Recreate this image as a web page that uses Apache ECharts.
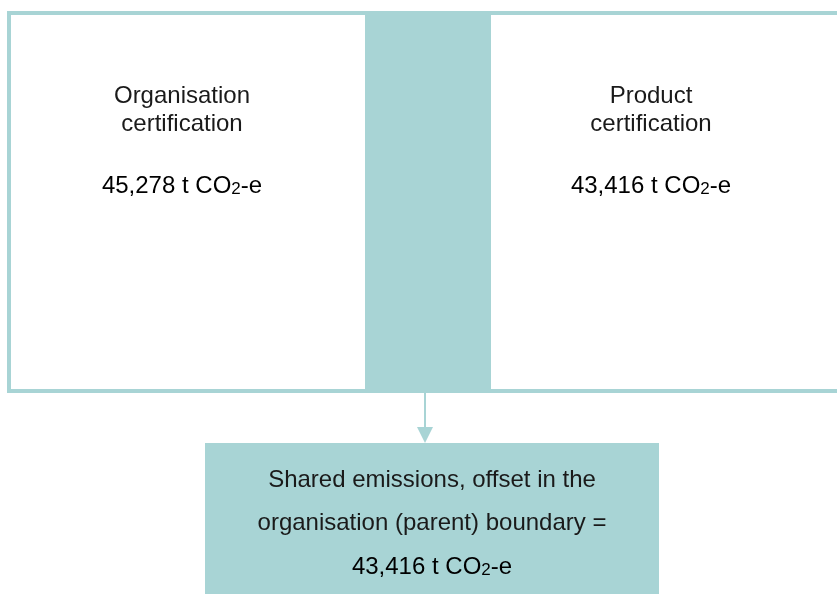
<!DOCTYPE html>
<html>
<head>
<meta charset="utf-8">
<script src="https://cdn.jsdelivr.net/npm/echarts@6/dist/echarts.min.js"></script>
<style>
	html, body { margin: 0; padding: 0; background: #fff; }
	#chart { width: 837px; height: 594px; }
</style>
</head>
<body>
<div id="chart"></div>
<script>
var boxTitles = ['Organisation\ncertification', 'Product\ncertification'];
var boxValues = [45278, 43416];
var sharedLines = ['Shared emissions, offset in the', 'organisation (parent) boundary ='];
var sharedValue = 43416;

var teal = '#a8d4d5';
var ink = '#1a1a1a';
var font = 'Arial, "Liberation Sans", sans-serif';

function fmt(v) {
	return v.toLocaleString('en-US');
}

var rich = {
	n: { fontSize: 24, fontFamily: font, color: ink, lineHeight: 24 },
	sub: { fontSize: 17, fontFamily: font, color: ink, lineHeight: 17, verticalAlign: 'bottom' }
};

function valueText(v) {
	return '{n|' + fmt(v) + ' t CO}{sub|2}{n|-e}';
}

/*
 * box positions
 */
var boxCentres = [182, 651];

var elements = [];

// outer frame, right side runs off the page
elements.push({
	type: 'rect',
	shape: { x: 9, y: 13, width: 880, height: 378 },
	style: { fill: '#fff', stroke: teal, lineWidth: 4 }
});
// shared column between the two boxes
elements.push({
	type: 'rect',
	shape: { x: 365, y: 11, width: 126, height: 382 },
	style: { fill: teal }
});

for (var i = 0; i < boxTitles.length; i++) {
	elements.push({
		type: 'text',
		x: boxCentres[i], y: 110,
		style: {
			text: boxTitles[i], fill: ink, font: '24px ' + font,
			lineHeight: 28, align: 'center', verticalAlign: 'middle'
		}
	});
	elements.push({
		type: 'text',
		x: boxCentres[i], y: 186,
		style: {
			text: valueText(boxValues[i]), rich: rich,
			align: 'center', verticalAlign: 'middle'
		}
	});
}

// arrow
elements.push({
	type: 'line',
	shape: { x1: 425, y1: 393, x2: 425, y2: 430 },
	style: { stroke: teal, lineWidth: 2 }
});
elements.push({
	type: 'polygon',
	shape: { points: [[417, 427], [433, 427], [425, 443]] },
	style: { fill: teal }
});

// shared box
elements.push({
	type: 'rect',
	shape: { x: 205, y: 443, width: 454, height: 151 },
	style: { fill: teal }
});
var lineY = [480, 523];
for (var j = 0; j < sharedLines.length; j++) {
	elements.push({
		type: 'text',
		x: 432, y: lineY[j],
		style: {
			text: sharedLines[j], fill: ink, font: '24px ' + font,
			align: 'center', verticalAlign: 'middle'
		}
	});
}
elements.push({
	type: 'text',
	x: 432, y: 567,
	style: { text: valueText(sharedValue), rich: rich, align: 'center', verticalAlign: 'middle' }
});

var myChart = echarts.init(document.getElementById('chart'));
myChart.setOption({
	animation: false,
	graphic: { elements: elements }
});
</script>
</body>
</html>
